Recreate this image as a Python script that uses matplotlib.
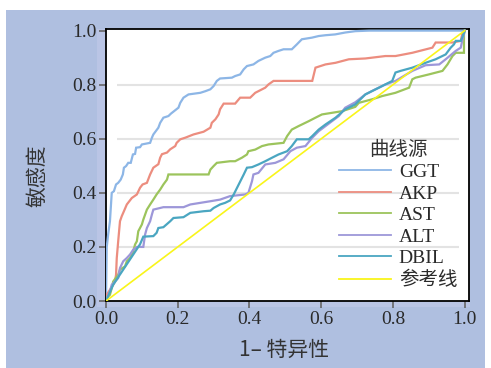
import matplotlib
matplotlib.use("Agg")
import matplotlib.pyplot as plt
from matplotlib.patches import Rectangle
from matplotlib.lines import Line2D

# ---- data ----
ggt_x = [0, 0.002, 0.006, 0.011, 0.016, 0.022, 0.028, 0.034, 0.041, 0.047, 0.050, 0.056, 0.062, 0.069,
         0.075, 0.081, 0.084, 0.095, 0.100, 0.123, 0.128, 0.132, 0.146, 0.151, 0.160, 0.174, 0.181,
         0.202, 0.207, 0.216, 0.230, 0.263, 0.277, 0.291, 0.300, 0.309, 0.318, 0.351, 0.360, 0.374,
         0.384, 0.393, 0.411, 0.425, 0.444, 0.458, 0.467, 0.481, 0.495, 0.518, 0.532, 0.546, 0.574,
         0.593, 0.612, 0.639, 0.667, 0.695, 0.733, 1.0]
ggt_y = [0, 0.199, 0.246, 0.295, 0.400, 0.406, 0.431, 0.437, 0.449, 0.468, 0.493, 0.499, 0.511, 0.511,
         0.542, 0.544, 0.567, 0.569, 0.579, 0.585, 0.604, 0.616, 0.641, 0.659, 0.678, 0.684, 0.693,
         0.715, 0.733, 0.752, 0.764, 0.770, 0.776, 0.783, 0.795, 0.814, 0.823, 0.826, 0.832, 0.838,
         0.857, 0.869, 0.875, 0.888, 0.900, 0.906, 0.918, 0.925, 0.931, 0.931, 0.949, 0.968, 0.974,
         0.980, 0.983, 0.986, 0.993, 0.998, 1.0, 1.0]

akp_x = [0, 0.002, 0.020, 0.025, 0.028, 0.030, 0.034, 0.039, 0.044, 0.048, 0.058, 0.072, 0.086, 0.095,
         0.102, 0.114, 0.123, 0.132, 0.146, 0.151, 0.156, 0.170, 0.179, 0.193, 0.197, 0.207, 0.221,
         0.244, 0.272, 0.291, 0.295, 0.305, 0.314, 0.318, 0.328, 0.360, 0.374, 0.402, 0.416, 0.444,
         0.453, 0.467, 0.575, 0.584, 0.598, 0.612, 0.640, 0.677, 0.723, 0.779, 0.807, 0.854, 0.910,
         0.919, 0.966, 0.989, 0.993, 1.0]
akp_y = [0, 0.023, 0.060, 0.072, 0.097, 0.159, 0.221, 0.295, 0.314, 0.326, 0.357, 0.381, 0.394, 0.419,
         0.431, 0.437, 0.468, 0.493, 0.506, 0.530, 0.543, 0.549, 0.561, 0.573, 0.585, 0.598, 0.604,
         0.616, 0.626, 0.641, 0.659, 0.672, 0.690, 0.709, 0.730, 0.730, 0.752, 0.752, 0.770, 0.789,
         0.801, 0.814, 0.814, 0.863, 0.869, 0.875, 0.881, 0.894, 0.897, 0.906, 0.906, 0.918, 0.937,
         0.956, 0.956, 0.962, 0.986, 1.0]

ast_x = [0, 0.002, 0.011, 0.016, 0.020, 0.034, 0.039, 0.053, 0.058, 0.067, 0.076, 0.081, 0.086, 0.090,
         0.100, 0.104, 0.114, 0.123, 0.132, 0.141, 0.151, 0.160, 0.170, 0.174, 0.286, 0.291, 0.300,
         0.309, 0.346, 0.360, 0.379, 0.393, 0.397, 0.416, 0.435, 0.453, 0.495, 0.505, 0.518, 0.537,
         0.565, 0.584, 0.602, 0.630, 0.658, 0.695, 0.705, 0.742, 0.770, 0.807, 0.845, 0.854, 0.863,
         0.900, 0.938, 0.952, 0.966, 0.975, 0.998, 0.998, 1.0]
ast_y = [0, 0.011, 0.023, 0.048, 0.072, 0.097, 0.116, 0.128, 0.147, 0.159, 0.184, 0.209, 0.221, 0.258,
         0.283, 0.301, 0.338, 0.357, 0.375, 0.394, 0.412, 0.431, 0.449, 0.468, 0.468, 0.486, 0.499,
         0.511, 0.517, 0.517, 0.530, 0.542, 0.554, 0.560, 0.573, 0.579, 0.585, 0.610, 0.634, 0.647,
         0.665, 0.678, 0.690, 0.696, 0.702, 0.718, 0.733, 0.746, 0.758, 0.770, 0.789, 0.820, 0.826,
         0.838, 0.851, 0.875, 0.906, 0.918, 0.918, 0.986, 1.0]

alt_x = [0, 0.002, 0.011, 0.016, 0.025, 0.034, 0.039, 0.048, 0.058, 0.067, 0.076, 0.086, 0.104, 0.109,
         0.114, 0.123, 0.128, 0.132, 0.160, 0.216, 0.235, 0.263, 0.291, 0.318, 0.346, 0.388, 0.397,
         0.407, 0.411, 0.425, 0.444, 0.472, 0.495, 0.514, 0.532, 0.556, 0.575, 0.593, 0.612, 0.630,
         0.649, 0.667, 0.695, 0.723, 0.751, 0.779, 0.807, 0.854, 0.891, 0.929, 0.947, 0.975, 0.989,
         0.993, 1.0]
alt_y = [0, 0.011, 0.036, 0.060, 0.072, 0.085, 0.122, 0.147, 0.159, 0.172, 0.190, 0.200, 0.200, 0.246,
         0.270, 0.295, 0.320, 0.338, 0.347, 0.347, 0.357, 0.363, 0.369, 0.375, 0.388, 0.394, 0.400,
         0.443, 0.468, 0.474, 0.505, 0.511, 0.524, 0.554, 0.567, 0.573, 0.604, 0.628, 0.647, 0.665,
         0.684, 0.715, 0.735, 0.764, 0.783, 0.801, 0.814, 0.851, 0.872, 0.875, 0.894, 0.925, 0.937,
         0.962, 1.0]

dbil_x = [0, 0.01, 0.02, 0.04, 0.06, 0.08, 0.095, 0.104, 0.132, 0.141, 0.146, 0.160, 0.179, 0.188,
          0.216, 0.235, 0.272, 0.291, 0.300, 0.318, 0.332, 0.346, 0.356, 0.370, 0.384, 0.393, 0.407,
          0.425, 0.444, 0.463, 0.481, 0.505, 0.518, 0.532, 0.565, 0.575, 0.593, 0.612, 0.640, 0.667,
          0.695, 0.723, 0.761, 0.798, 0.807, 0.821, 0.854, 0.891, 0.919, 0.947, 0.961, 0.970, 0.975,
          0.989, 0.993, 1.0]
dbil_y = [0, 0.03, 0.06, 0.10, 0.14, 0.18, 0.21, 0.238, 0.240, 0.252, 0.270, 0.273, 0.295, 0.307,
          0.310, 0.326, 0.332, 0.334, 0.344, 0.357, 0.363, 0.372, 0.394, 0.431, 0.468, 0.493, 0.495,
          0.505, 0.517, 0.530, 0.542, 0.554, 0.573, 0.598, 0.598, 0.610, 0.634, 0.653, 0.678, 0.709,
          0.727, 0.764, 0.789, 0.814, 0.845, 0.851, 0.863, 0.881, 0.894, 0.912, 0.937, 0.949, 0.962,
          0.962, 0.974, 1.0]

ref_x = [0, 1]
ref_y = [0, 1]

series = ["GGT", "AKP", "AST", "ALT", "DBIL"]
legend_title = "曲线源"
ref_label = "参考线"
xticks = [0.0, 0.2, 0.4, 0.6, 0.8, 1.0]
yticks = [0.0, 0.2, 0.4, 0.6, 0.8, 1.0]
grid_levels = [0.2, 0.4, 0.6, 0.8]

colors = {"GGT": "#8db6e6", "AKP": "#ec8d7f", "AST": "#9cc45c", "ALT": "#9d97d9", "DBIL": "#4aa6c1"}
ref_color = "#f9f51a"

serif = ["Liberation Serif", "Noto Sans CJK SC"]
cjk = ["Noto Sans CJK SC", "DejaVu Sans"]

fig = plt.figure(figsize=(4.91, 3.68), dpi=100, facecolor="white")
W, H = 491, 368
fig.patches.append(Rectangle((6 / W, 0), (485 - 6) / W, (358) / H, transform=fig.transFigure,
                             facecolor="#afbfe0", edgecolor="none", zorder=-10))
fig.patches.append(Rectangle((97 / W, 1 - 307 / H), (470 - 97) / W, (307 - 29) / H,
                             transform=fig.transFigure, facecolor="#bac5e5", edgecolor="none", zorder=-9))

ax = fig.add_axes([106 / W, 1 - 301 / H, (469 - 106) / W, (301 - 29) / H])
ax.set_facecolor("white")
ax.set_xlim(0, 1.012)
ax.set_ylim(0, 1.006)

ax.hlines(grid_levels, 0.03, 0.985, colors="#e3e3e3", lw=1.5, zorder=1)

data = {"GGT": (ggt_x, ggt_y), "AKP": (akp_x, akp_y), "AST": (ast_x, ast_y),
        "ALT": (alt_x, alt_y), "DBIL": (dbil_x, dbil_y)}
handles = []
for name in series:
    xs, ys = data[name]
    ax.plot(xs, ys, color=colors[name], lw=1.6, zorder=3, solid_joinstyle="miter")
    handles.append(Line2D([], [], color=colors[name], lw=1.3))
ax.plot(ref_x, ref_y, color=ref_color, lw=1.2, zorder=4)
handles.append(Line2D([], [], color=ref_color, lw=1.3))

for s in ax.spines.values():
    s.set_color("black")
    s.set_linewidth(1.3)

ax.set_xticks(xticks)
ax.set_yticks(yticks)
ax.set_xticklabels([f"{v:.1f}" for v in xticks], family=serif, fontsize=14, color="#2a2a2a")
ax.set_yticklabels([f"{v:.1f}" for v in yticks], family=serif, fontsize=14, color="#2a2a2a")
ax.tick_params(direction="out", length=5, width=1.2, color="#666666", pad=2)

ax.set_xlabel("1– 特异性", family=cjk, fontsize=15, color="#333333", fontweight="light")
ax.xaxis.set_label_coords(0.49, -0.14)
ax.set_ylabel("敏感度", family=cjk, fontsize=15, color="#333333", fontweight="light")
ax.yaxis.set_label_coords(-0.16, 0.46)

leg = ax.legend(handles, series + [ref_label], title=legend_title, loc="lower right",
                bbox_to_anchor=(1.0, 0.0), frameon=False, prop={"family": serif, "size": 14},
                handlelength=2.7, handletextpad=0.4, labelspacing=0.2, borderaxespad=0.2)
leg.get_title().set_fontfamily(cjk)
leg.get_title().set_fontsize(14)
leg.get_title().set_fontweight("light")
leg.get_title().set_color("#333333")
for t in leg.get_texts():
    t.set_color("#2a2a2a")

fig.savefig("out.png", dpi=100, facecolor=fig.get_facecolor())
